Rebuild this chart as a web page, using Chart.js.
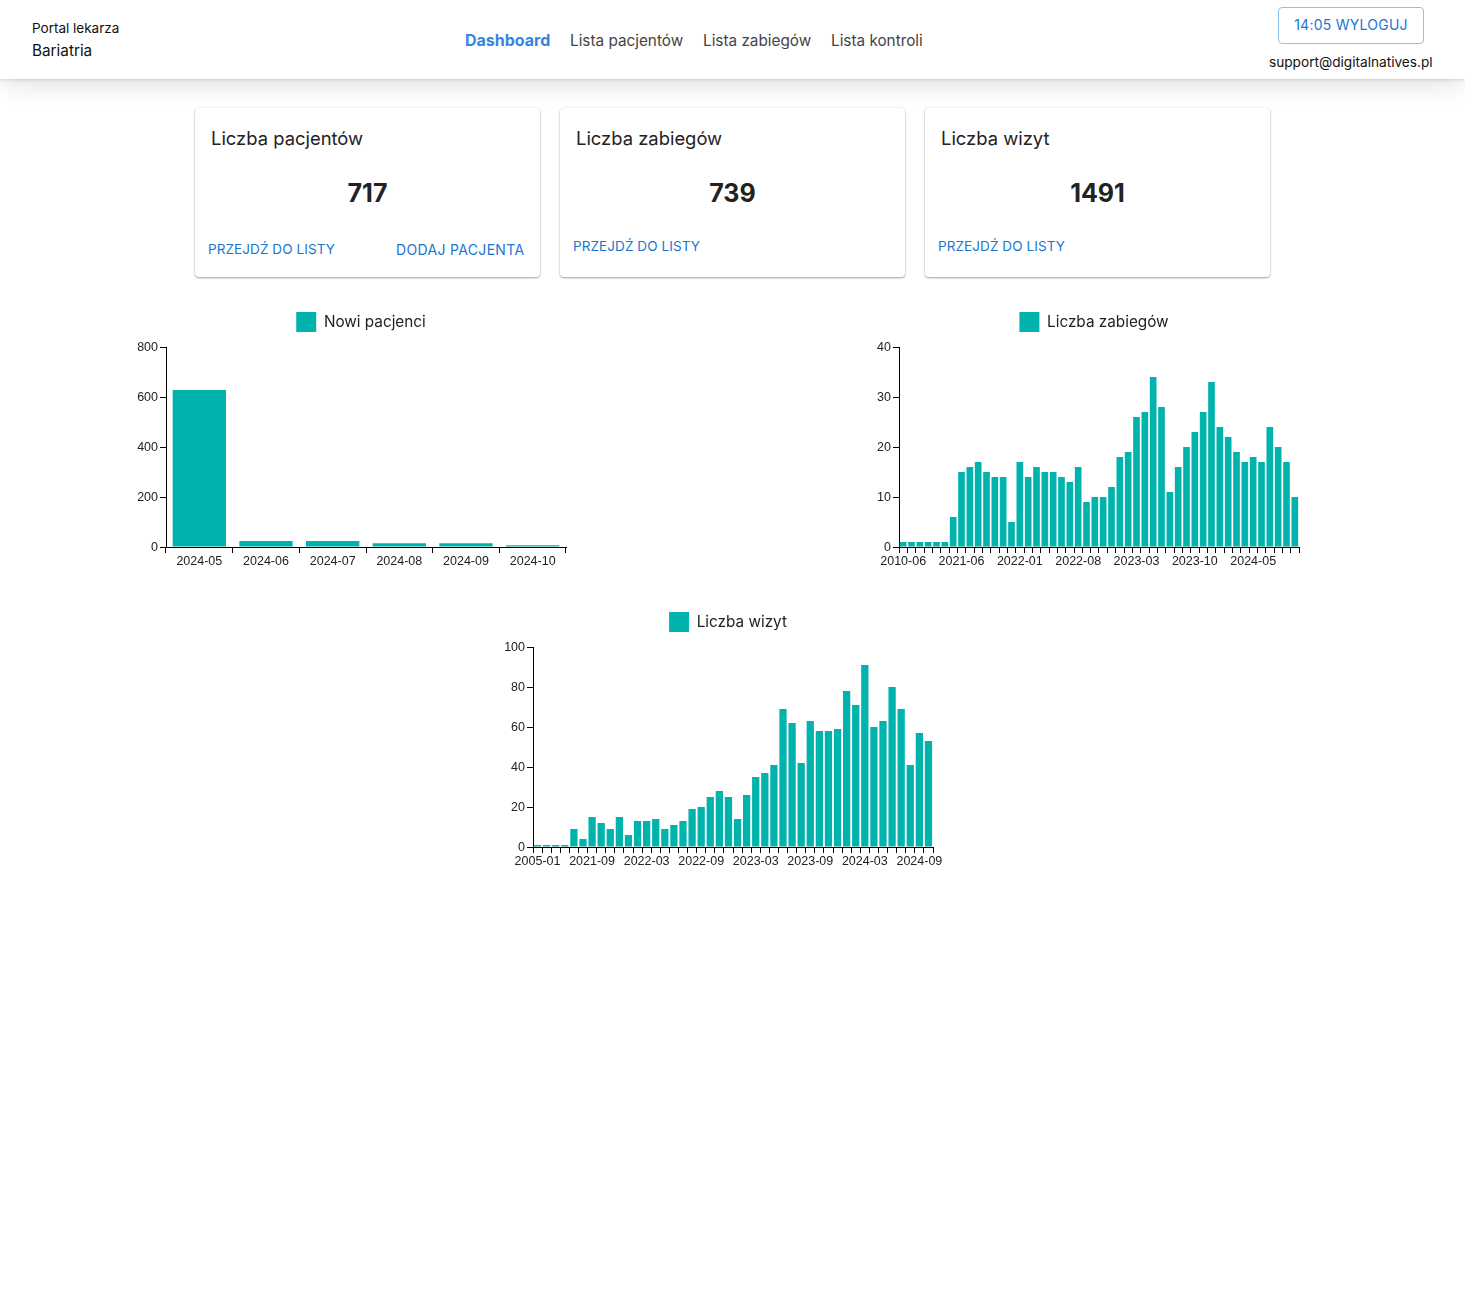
<!DOCTYPE html>
<html lang="pl">
<head>
    <meta charset="UTF-8">
    <title>Portal lekarza - Bariatria</title>
    <script src="https://cdn.jsdelivr.net/npm/chart.js"></script>
    <style>
        html, body { margin: 0; padding: 0; background: #fff; }
        body { position: relative; width: 1465px; height: 1294px; overflow: hidden; font-family: Inter, "Noto Sans", sans-serif; color: #222; }
        .abs { position: absolute; white-space: nowrap; }
        header { position: absolute; left: 0; top: 0; width: 1465px; height: 79px; background: #fff; box-shadow: 0 1px 3px rgba(0,0,0,.14), 0 10px 25px -4px rgba(0,0,0,.12); }
        .nav { font-size: 15.3px; top: 31px; color: #444; }
        .card { position: absolute; top: 108px; width: 345px; height: 169px; background: #fff; border-radius: 4px; box-shadow: 0 1px 2px rgba(0,0,0,.35), 0 0 3px rgba(0,0,0,.08); }
        .title { font-size: 18.4px; color: #222; }
        .num { font-size: 25px; font-weight: 700; text-align: center; color: #222; }
        .link { font-size: 13.5px; color: #1976d2; letter-spacing: .09px; font-weight: 400; }
        canvas { position: absolute; }
    </style>
</head>
<body>
    <header></header>
    <div class="abs" style="left:32px;top:20px;font-size:13.5px;color:#111">Portal lekarza</div>
    <div class="abs" style="left:32px;top:41px;font-size:15.3px;color:#111">Bariatria</div>
    <div class="abs nav" style="left:465px;top:30px;font-size:16px;color:#3584e4;font-weight:700">Dashboard</div>
    <div class="abs nav" style="left:570px">Lista pacjentów</div>
    <div class="abs nav" style="left:703px">Lista zabiegów</div>
    <div class="abs nav" style="left:831px">Lista kontroli</div>
    <div class="abs" style="left:1278px;top:7px;width:144px;height:35px;border:1px solid #90c2ea;border-radius:4px;text-align:center;line-height:34px;font-size:14px;color:#1976d2;letter-spacing:.25px">14:05 WYLOGUJ</div>
    <div class="abs" style="left:1269px;top:54px;font-size:13.65px;color:#111">support@digitalnatives.pl</div>

    <div class="card" style="left:195px"></div>
    <div class="card" style="left:560px"></div>
    <div class="card" style="left:925px"></div>

    <div class="abs title" style="left:211px;top:127px">Liczba pacjentów</div>
    <div class="abs num" style="left:195px;top:178px;width:345px">717</div>
    <div class="abs link" style="left:208px;top:241px">PRZEJDŹ DO LISTY</div>
    <div class="abs link" style="left:396px;top:241px;font-size:14px;letter-spacing:.33px">DODAJ PACJENTA</div>

    <div class="abs title" style="left:576px;top:127px">Liczba zabiegów</div>
    <div class="abs num" style="left:560px;top:178px;width:345px">739</div>
    <div class="abs link" style="left:573px;top:238px">PRZEJDŹ DO LISTY</div>

    <div class="abs title" style="left:941px;top:127px">Liczba wizyt</div>
    <div class="abs num" style="left:925px;top:178px;width:345px">1491</div>
    <div class="abs link" style="left:938px;top:238px">PRZEJDŹ DO LISTY</div>

    <canvas id="chartPacjenci" width="500" height="280" style="left:111px;top:300px"></canvas>
    <canvas id="chartZabiegi" width="500" height="280" style="left:844px;top:300px"></canvas>
    <canvas id="chartWizyty" width="500" height="280" style="left:478px;top:600px"></canvas>

    <script>
        const pacjenciLabels = ['2024-05', '2024-06', '2024-07', '2024-08', '2024-09', '2024-10'];
        const pacjenciValues = [628, 24, 24, 15, 15, 7];

        // only every 7th label is visible in the picture, the hidden early ones are unknown
        const zabiegiLabels = ['2010-06', '', '', '', '', '', '', '2021-06', '2021-07', '2021-08', '2021-09', '2021-10', '2021-11', '2021-12',
            '2022-01', '2022-02', '2022-03', '2022-04', '2022-05', '2022-06', '2022-07', '2022-08', '2022-09', '2022-10', '2022-11', '2022-12',
            '2023-01', '2023-02', '2023-03', '2023-04', '2023-05', '2023-06', '2023-07', '2023-08', '2023-09', '2023-10', '2023-11', '2023-12',
            '2024-01', '2024-02', '2024-03', '2024-04', '2024-05', '2024-06', '2024-07', '2024-08', '2024-09', '2024-10'];
        const zabiegiValues = [1, 1, 1, 1, 1, 1, 6, 15, 16, 17, 15, 14, 14, 5, 17, 14, 16, 15, 15, 14, 13, 16, 9, 10,
            10, 12, 18, 19, 26, 27, 34, 28, 11, 16, 20, 23, 27, 33, 24, 22, 19, 17, 18, 17, 24, 20, 17, 10];

        // every 6th label visible
        const wizytyLabels = ['2005-01', '', '', '', '', '', '2021-09', '2021-10', '2021-11', '2021-12',
            '2022-01', '2022-02', '2022-03', '2022-04', '2022-05', '2022-06', '2022-07', '2022-08', '2022-09', '2022-10', '2022-11', '2022-12',
            '2023-01', '2023-02', '2023-03', '2023-04', '2023-05', '2023-06', '2023-07', '2023-08', '2023-09', '2023-10', '2023-11', '2023-12',
            '2024-01', '2024-02', '2024-03', '2024-04', '2024-05', '2024-06', '2024-07', '2024-08', '2024-09', '2024-10'];
        const wizytyValues = [1, 1, 1, 1, 9, 4, 15, 12, 9, 15, 6, 13, 13, 14, 9, 11, 13, 19, 20, 25, 28, 25,
            14, 26, 35, 37, 41, 69, 62, 42, 63, 58, 58, 59, 78, 71, 91, 60, 63, 80, 69, 41, 57, 53];

        const TEAL = '#00b3ad';

        // extra room under the legend
        const legendGap = {
            id: 'legendGap',
            beforeInit(chart) {
                const fit = chart.legend.fit;
                chart.legend.fit = function () {
                    fit.call(this);
                    this.height += 5;
                };
            }
        };

        function drawBar(canvasId, label, labels, values, yMax, yStep, every) {
            const ctx = document.getElementById(canvasId).getContext('2d');
            return new Chart(ctx, {
                type: 'bar',
                data: {
                    labels: labels,
                    datasets: [{
                        label: label,
                        data: values,
                        backgroundColor: TEAL,
                        borderWidth: 0,
                        barPercentage: 0.8,
                        categoryPercentage: 1
                    }]
                },
                plugins: [legendGap],
                options: {
                    responsive: false,
                    animation: false,
                    layout: { autoPadding: false },
                    plugins: {
                        tooltip: { enabled: false },
                        legend: {
                            position: 'top',
                            onClick: null,
                            labels: {
                                boxWidth: 20,
                                boxHeight: 20,
                                padding: 12,
                                color: '#222',
                                font: { family: 'Inter', size: 15.3 }
                            }
                        }
                    },
                    scales: {
                        x: {
                            afterFit: s => { s.height = 33; },
                            border: { color: '#000', width: 1 },
                            grid: { offset: true, drawOnChartArea: false, drawTicks: true, tickLength: 6, color: '#000' },
                            ticks: {
                                autoSkip: false,
                                maxRotation: 0,
                                padding: 1,
                                color: '#222',
                                font: { family: 'Liberation Sans', size: 12.5 },
                                callback: function (value, index) {
                                    return index % every === 0 ? this.getLabelForValue(value) : '';
                                }
                            }
                        },
                        y: {
                            min: 0,
                            max: yMax,
                            afterFit: s => { s.width = 55; },
                            border: { color: '#000', width: 1 },
                            grid: { drawOnChartArea: false, drawTicks: true, tickLength: 6, color: '#000' },
                            ticks: {
                                stepSize: yStep,
                                padding: 2,
                                labelOffset: 1,
                                color: '#222',
                                font: { family: 'Liberation Sans', size: 12.5 }
                            }
                        },
                        // empty axis, only keeps the margin right of the plot
                        rightMargin: {
                            type: 'linear',
                            position: 'right',
                            afterFit: s => { s.width = 45; },
                            border: { display: false },
                            grid: { display: false },
                            ticks: { display: false }
                        }
                    }
                }
            });
        }

        drawBar('chartPacjenci', 'Nowi pacjenci', pacjenciLabels, pacjenciValues, 800, 200, 1);
        drawBar('chartZabiegi', 'Liczba zabiegów', zabiegiLabels, zabiegiValues, 40, 10, 7);
        drawBar('chartWizyty', 'Liczba wizyt', wizytyLabels, wizytyValues, 100, 20, 6);
    </script>
</body>
</html>
